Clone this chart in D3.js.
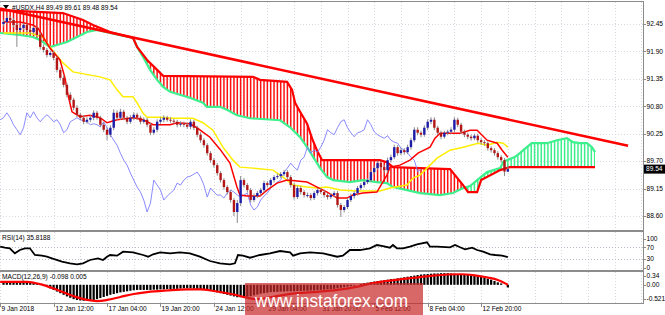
<!DOCTYPE html>
<html><head><meta charset="utf-8">
<script src="https://cdn.jsdelivr.net/npm/d3@7"></script>
<style>body{margin:0;background:#fff;overflow:hidden}svg{display:block;font-family:"Liberation Sans",Arial,sans-serif}</style>
</head><body><svg id="c" width="665" height="315"></svg>
<script>
// ---------- DATA ----------
const opens=[92.45,92.49,92.57,92.53,92.43,92.33,92.37,92.43,92.33,92.29,
92.37,92.23,91.99,91.93,91.83,91.87,91.77,91.53,91.37,91.23,
91.03,90.93,90.77,90.63,90.57,90.49,90.53,90.57,90.67,90.57,
90.43,90.33,90.23,90.37,90.67,90.57,90.69,90.57,90.49,90.57,
90.63,90.57,90.49,90.53,90.43,90.27,90.33,90.49,90.53,90.57,
90.53,90.51,90.49,90.43,90.45,90.43,90.39,90.49,90.37,90.23,
90.12,90.02,89.86,89.72,89.62,89.46,89.32,89.18,89.08,88.92,
88.68,88.86,89.32,89.22,89.12,88.92,89.00,89.06,89.12,89.26,
89.22,89.32,89.38,89.40,89.44,89.48,89.38,89.22,88.98,89.16,
89.08,89.02,89.02,88.96,89.06,89.12,89.08,89.02,88.98,89.02,
89.06,88.82,88.72,88.78,88.92,89.00,89.06,89.16,89.22,89.28,
89.32,89.48,89.56,89.66,89.58,89.52,89.72,89.78,89.98,89.86,
89.92,89.88,89.98,90.12,90.33,90.27,90.23,90.37,90.49,90.53,
90.37,90.27,90.19,90.27,90.29,90.33,90.53,90.43,90.29,90.23,
90.19,90.16,90.21,90.12,90.08,90.06,89.96,89.92,89.86,89.78,
89.72,89.49];
const highs=[92.54,92.62,92.61,92.57,92.47,92.42,92.47,92.46,92.38,92.41,
92.40,92.27,92.04,91.97,91.92,91.91,91.80,91.58,91.42,91.27,
91.08,90.97,90.82,90.67,90.62,90.58,90.62,90.72,90.71,90.61,
90.48,90.38,90.42,90.74,90.72,90.75,90.73,90.61,90.62,90.68,
90.67,90.61,90.58,90.57,90.47,90.38,90.54,90.58,90.62,90.61,
90.58,90.55,90.53,90.50,90.49,90.47,90.54,90.53,90.41,90.28,
90.16,90.06,89.90,89.76,89.66,89.50,89.36,89.22,89.12,88.96,
88.92,89.40,89.36,89.26,89.16,89.05,89.10,89.16,89.31,89.30,
89.36,89.42,89.45,89.48,89.52,89.52,89.42,89.26,89.21,89.20,
89.12,89.07,89.06,89.10,89.16,89.16,89.12,89.06,89.06,89.10,
89.10,88.86,88.82,88.96,89.05,89.10,89.20,89.26,89.32,89.36,
89.53,89.61,89.71,89.70,89.62,89.77,89.83,90.03,90.02,89.97,
89.96,90.03,90.17,90.38,90.38,90.31,90.42,90.54,90.58,90.58,
90.41,90.31,90.31,90.33,90.38,90.58,90.57,90.47,90.33,90.27,
90.23,90.25,90.25,90.16,90.12,90.10,90.00,89.96,89.90,89.82,
89.76,89.61];
const lows=[92.40,92.45,92.48,92.38,91.99,92.28,92.33,92.28,92.24,92.25,
92.18,91.94,91.88,91.78,91.79,91.72,91.48,91.32,91.18,90.98,
90.88,90.72,90.58,90.52,90.44,90.45,90.48,90.52,90.53,90.38,
90.28,90.12,90.18,90.32,90.52,90.53,90.52,90.44,90.45,90.52,
90.53,90.44,90.45,90.38,90.22,90.23,90.28,90.45,90.48,90.49,
90.47,90.45,90.38,90.39,90.38,90.35,90.34,90.32,90.18,90.07,
89.97,89.81,89.67,89.57,89.41,89.27,89.13,89.03,88.87,88.60,
88.46,88.80,89.17,89.07,88.87,88.88,88.96,89.01,89.07,89.17,
89.18,89.27,89.34,89.36,89.40,89.33,89.17,88.93,88.94,89.03,
88.97,88.97,88.91,88.92,89.01,89.04,88.97,88.93,88.94,88.98,
88.77,88.58,88.67,88.74,88.88,88.95,89.01,89.12,89.17,89.24,
89.28,89.43,89.52,89.54,89.47,89.47,89.67,89.74,89.81,89.82,
89.83,89.84,89.93,90.08,90.22,90.18,90.19,90.32,90.44,90.32,
90.22,90.14,90.15,90.22,90.25,90.28,90.38,90.24,90.18,90.14,
90.11,90.12,90.07,90.03,90.01,89.91,89.87,89.81,89.73,89.67,
89.40,89.48];
const closes=[92.49,92.57,92.53,92.43,92.33,92.37,92.43,92.33,92.29,92.37,
92.23,91.99,91.93,91.83,91.87,91.77,91.53,91.37,91.23,91.03,
90.93,90.77,90.63,90.57,90.49,90.53,90.57,90.67,90.57,90.43,
90.33,90.23,90.37,90.67,90.57,90.69,90.57,90.49,90.57,90.63,
90.57,90.49,90.53,90.43,90.27,90.33,90.49,90.53,90.57,90.53,
90.51,90.49,90.43,90.45,90.43,90.39,90.49,90.37,90.23,90.12,
90.02,89.86,89.72,89.62,89.46,89.32,89.18,89.08,88.92,88.68,
88.86,89.32,89.22,89.12,88.92,89.00,89.06,89.12,89.26,89.22,
89.32,89.38,89.40,89.44,89.48,89.38,89.22,88.98,89.16,89.08,
89.02,89.02,88.96,89.06,89.12,89.08,89.02,88.98,89.02,89.06,
88.82,88.72,88.78,88.92,89.00,89.06,89.16,89.22,89.28,89.32,
89.48,89.56,89.66,89.58,89.52,89.72,89.78,89.98,89.86,89.92,
89.88,89.98,90.12,90.33,90.27,90.23,90.37,90.49,90.53,90.37,
90.27,90.19,90.27,90.29,90.33,90.53,90.43,90.29,90.23,90.19,
90.16,90.21,90.12,90.08,90.06,89.96,89.92,89.86,89.78,89.72,
89.49,89.54];

// Ichimoku lines: [bar index, price]
const tenkan=[[0,92.49],[4.9,92.49],[8.8,92.43],[10.3,92.37],[12.4,92.13],[13.9,91.97],[16.9,91.73],[18.4,91.37],[19.3,91.03],[20.5,90.69],[22.9,90.59],[25.9,90.62],[28.9,90.57],[31.0,90.47],[34.0,90.53],[38.8,90.57],[41.8,90.53],[44.8,90.43],[49.9,90.43],[52.0,90.47],[55.8,90.45],[57.9,90.37],[59.7,90.28],[61.8,90.18],[64.8,89.94],[67.8,89.66],[69.9,89.18],[70.8,89.02],[72.9,89.00],[76.8,89.00],[78.9,89.12],[81.9,89.26],[84.9,89.32],[90.9,89.28],[93.9,89.18],[96.9,89.08],[99.9,88.96],[102.8,88.96],[104.6,89.02],[107.6,89.06],[111.8,89.08],[114.8,89.42],[115.7,89.58],[118.7,89.62],[121.7,89.72],[124.1,89.86],[127.7,89.98],[129.2,90.16],[130.7,90.26],[136.7,90.26],[139.7,90.32],[141.8,90.32],[142.7,90.26],[144.8,90.12],[147.8,90.06],[149.3,89.92],[151,89.78]];
const kijun=[[0,92.27],[7.9,92.27],[11.8,92.19],[13.9,91.99],[17.8,91.67],[20.8,91.49],[28.9,91.39],[31.9,91.33],[34.0,91.13],[35.8,90.99],[38.8,90.99],[40.0,90.87],[41.8,90.66],[43.0,90.58],[46.9,90.58],[50.8,90.56],[56.7,90.56],[59.7,90.47],[62.7,90.32],[65.7,89.98],[68.7,89.72],[70.8,89.58],[74.7,89.56],[80.7,89.52],[83.7,89.38],[86.7,89.22],[90.9,89.18],[93.9,89.16],[96.9,89.18],[100.8,89.12],[105.8,89.10],[112.7,89.10],[115.7,89.16],[120.8,89.22],[122.6,89.36],[124.7,89.42],[126.8,89.56],[129.8,89.76],[133.7,89.92],[137.6,89.98],[142.1,90.06],[144.8,90.02],[147.8,90.08],[149.6,90.06],[151,89.98]];
const spanB=[[-1.05,92.73],[17.8,92.67],[23.8,92.53],[26.8,92.43],[31.9,92.29],[38.8,92.17],[40.0,91.99],[43.0,91.73],[46.0,91.53],[47.8,91.41],[74.7,91.39],[76.8,91.33],[84.9,91.29],[86.4,91.13],[87.3,90.87],[88.8,90.69],[90.9,90.45],[92.4,90.15],[93.9,89.91],[95.4,89.72],[112.7,89.72],[114.8,89.68],[116.6,89.58],[124.7,89.56],[133.7,89.54],[137.6,89.22],[139.1,89.08],[141.8,89.08],[143.0,89.32],[148.7,89.52],[151.6,89.58],[177.1,89.58]];
const spanA=[[-1.05,92.27],[4.9,92.23],[8.8,92.19],[10.9,92.13],[13.9,91.99],[16.0,92.03],[19.0,92.09],[22.0,92.19],[25.0,92.29],[28.0,92.33],[31.9,92.27],[38.8,92.17],[40.0,91.99],[41.8,91.79],[43.9,91.53],[46.0,91.33],[47.8,91.19],[49.9,91.09],[52.8,91.03],[55.8,90.97],[59.7,90.87],[60.9,90.79],[64.8,90.79],[66.9,90.73],[69.9,90.62],[73.8,90.56],[82.8,90.52],[85.8,90.38],[88.8,90.18],[90.9,89.98],[93.3,89.72],[94.8,89.56],[96.9,89.38],[98.7,89.32],[103.7,89.28],[107.6,89.32],[111.8,89.28],[114.8,89.26],[116.6,89.18],[120.8,89.12],[124.7,89.06],[130.7,89.02],[134.6,89.06],[137.6,89.16],[139.7,89.20],[141.8,89.32],[144.8,89.48],[148.7,89.56],[149.6,89.68],[150.7,89.72],[153.1,89.78],[154.6,89.86],[156.7,89.98],[158.2,90.06],[162.7,90.06],[165.7,90.12],[168.7,90.16],[170.5,90.08],[172.6,90.06],[174.7,90.06],[176.2,89.98],[177.1,89.88]];
const chikouShift=26;
const trendline=[[-1.05,92.76],[187,90.01]];

const rsi=[[-1.0,71.7],[0.4,68.3],[1.9,66.2],[3.4,49.0],[4.9,60.3],[6.4,66.2],[7.9,66.2],[9.4,43.1],[11.5,40.7],[13.0,37.2],[14.5,31.7],[17.5,20.0],[19.9,14.5],[22.0,11.0],[23.8,14.5],[25.9,25.9],[28.3,31.7],[29.8,25.9],[31.0,37.2],[31.9,43.1],[34.0,40.7],[35.8,54.5],[38.8,52.4],[41.8,43.1],[43.3,37.2],[44.8,45.5],[46.9,52.4],[49.9,49.0],[52.8,52.4],[55.8,49.0],[58.8,37.2],[61.8,22.4],[64.8,14.5],[67.8,11.0],[69.3,14.5],[70.2,43.1],[71.7,40.7],[73.8,33.8],[76.8,43.1],[79.8,49.0],[82.8,56.9],[85.8,52.4],[86.7,40.7],[88.8,49.0],[91.8,52.4],[95.7,49.0],[99.9,37.2],[101.6,40.7],[103.7,60.3],[106.7,60.3],[109.7,66.2],[111.8,77.6],[113.6,74.1],[115.7,68.3],[116.6,77.6],[117.8,66.2],[119.6,66.2],[121.7,71.7],[123.8,80.0],[126.8,86.9],[127.7,71.7],[129.8,71.7],[133.7,69.7],[135.2,77.6],[136.7,69.7],[138.2,62.8],[140.3,68.3],[141.8,60.3],[143.6,54.5],[145.7,45.5],[147.2,43.1],[149.3,40.7],[151,35.8]];
const macdHist=[0.10,0.10,0.11,0.11,0.11,0.10,0.10,0.09,0.08,0.07,
0.05,0.02,-0.02,-0.07,-0.13,-0.19,-0.25,-0.31,-0.37,-0.43,
-0.48,-0.53,-0.56,-0.58,-0.59,-0.59,-0.58,-0.56,-0.53,-0.49,
-0.45,-0.41,-0.37,-0.34,-0.31,-0.28,-0.26,-0.24,-0.22,-0.20,
-0.19,-0.19,-0.19,-0.19,-0.19,-0.18,-0.18,-0.17,-0.17,-0.16,
-0.16,-0.15,-0.15,-0.14,-0.13,-0.13,-0.13,-0.14,-0.15,-0.16,
-0.18,-0.20,-0.23,-0.26,-0.28,-0.31,-0.34,-0.37,-0.40,-0.43,
-0.46,-0.46,-0.45,-0.44,-0.42,-0.39,-0.36,-0.33,-0.31,-0.29,
-0.27,-0.26,-0.26,-0.25,-0.25,-0.24,-0.24,-0.24,-0.23,-0.23,
-0.22,-0.22,-0.21,-0.21,-0.20,-0.19,-0.18,-0.17,-0.16,-0.15,
-0.13,-0.11,-0.09,-0.07,-0.05,-0.03,0.00,0.03,0.06,0.08,
0.10,0.12,0.14,0.15,0.17,0.19,0.21,0.22,0.24,0.26,
0.28,0.30,0.32,0.34,0.36,0.38,0.39,0.40,0.41,0.42,
0.42,0.43,0.43,0.43,0.42,0.41,0.40,0.39,0.38,0.37,
0.35,0.34,0.32,0.30,0.27,0.23,0.19,0.14,0.09,0.05,
0.00,-0.098];
const macdSignal=[[-1,0.11],[7,0.11],[12,-0.01],[16,-0.18],[21,-0.42],[25,-0.56],[28,-0.60],[31,-0.56],[35,-0.45],[39,-0.34],[43,-0.27],[49,-0.21],[55,-0.17],[59,-0.17],[63,-0.23],[69,-0.36],[73,-0.48],[76,-0.53],[80,-0.46],[84,-0.37],[88,-0.31],[94,-0.26],[100,-0.19],[106,-0.07],[110,0.05],[114,0.13],[118,0.19],[123,0.26],[128,0.33],[133,0.38],[137,0.39],[141,0.35],[145,0.27],[148,0.18],[151,0.005]];

const priceTicks=[92.45,91.90,91.35,90.80,90.25,89.70,89.15,88.60];
const rsiTicks=[100,70,30,0];
const rsiLevels=[70,30];
const macdTicks=[0.34,0.00,-0.521];
const timeLabels=["9 Jan 2018","12 Jan 12:00","17 Jan 04:00","19 Jan 20:00","24 Jan 12:00","29 Jan 04:00","31 Jan 20:00","5 Feb 12:00","8 Feb 04:00","12 Feb 20:00"];
const timeBars=[-1,15,31,47,63,79,95,111,127,143];
const header="#USDX,H4  89.49 89.61 89.48 89.54";
const lastPrice=89.54;

// ---------- LAYOUT ----------
const svg=d3.select("#c");
const R=643;
const main={t:2,b:230}, rsiP={t:232,b:270}, macP={t:272,b:303};
const x=d3.scaleLinear().domain([-1.048,191.47]).range([0,R]);
const y=d3.scaleLinear().domain([88.60,92.45]).range([216,24]);
const yR=d3.scaleLinear().domain([0,100]).range([267.5,238.5]);
const yM=d3.scaleLinear().domain([0,0.34]).range([284.8,275.6]);
const defs=svg.append("defs");
function clipRect(id,p){defs.append("clipPath").attr("id",id).append("rect").attr("x",0).attr("y",p.t).attr("width",R).attr("height",p.b-p.t);}
clipRect("cMain",main);clipRect("cRsi",rsiP);clipRect("cMac",macP);

// grid
const gridBars=d3.range(-1,192,8);
const grid=svg.append("g").attr("stroke","#d9d9e4").attr("stroke-dasharray","1,2").attr("stroke-width",1);
[main,rsiP,macP].forEach(p=>{
  grid.selectAll(null).data(gridBars).join("line").attr("x1",d=>Math.round(x(d))+0.5).attr("x2",d=>Math.round(x(d))+0.5).attr("y1",p.t).attr("y2",p.b);
});
grid.selectAll(null).data(priceTicks).join("line").attr("x1",0).attr("x2",R).attr("y1",d=>Math.round(y(d))+0.5).attr("y2",d=>Math.round(y(d))+0.5);
grid.selectAll(null).data(rsiLevels).join("line").attr("x1",0).attr("x2",R).attr("y1",d=>Math.round(yR(d))+0.5).attr("y2",d=>Math.round(yR(d))+0.5).attr("stroke","#b8b8c8");

// ---------- MAIN PANEL ----------
const gm=svg.append("g").attr("clip-path","url(#cMain)");
const P=d=>[x(d[0]),y(d[1])];
const line=d3.line().x(d=>x(d[0])).y(d=>y(d[1]));
// cloud
const areaPts=spanB.map(P).concat(spanA.slice().reverse().map(P));
defs.append("clipPath").attr("id","cloudArea").append("path").attr("d","M"+areaPts.join("L")+"Z");
const aPts=spanA.map(P);
const x0=aPts[0][0], x1=aPts[aPts.length-1][0];
defs.append("clipPath").attr("id","aboveA").append("path").attr("d","M"+aPts.join("L")+`L${x1},-10L${x0},-10Z`);
defs.append("clipPath").attr("id","belowA").append("path").attr("d","M"+aPts.join("L")+`L${x1},300L${x0},300Z`);
const hatchBars=d3.range(-1,178);
const gc=gm.append("g").attr("clip-path","url(#cloudArea)");
gc.append("g").attr("clip-path","url(#aboveA)").selectAll("line").data(hatchBars).join("line")
  .attr("x1",d=>x(d)).attr("x2",d=>x(d)).attr("y1",0).attr("y2",231).attr("stroke","#ff1010").attr("stroke-width",1.5);
gc.append("g").attr("clip-path","url(#belowA)").selectAll("line").data(hatchBars).join("line")
  .attr("x1",d=>x(d)).attr("x2",d=>x(d)).attr("y1",0).attr("y2",231).attr("stroke","#3cee8c").attr("stroke-width",1.5);
gm.append("path").attr("d",line(spanA)).attr("fill","none").attr("stroke","#3cf08c").attr("stroke-width",2.2);
gm.append("path").attr("d",line(spanB)).attr("fill","none").attr("stroke","#ff0000").attr("stroke-width",2.2);
// chikou
const chikou=closes.map((c,i)=>[i-chikouShift,c]);
gm.append("path").attr("d",line(chikou)).attr("fill","none").attr("stroke","#7c7cff").attr("stroke-width",0.9);
gm.append("path").attr("d",line(kijun)).attr("fill","none").attr("stroke","#ffee00").attr("stroke-width",1.5);
gm.append("path").attr("d",line(tenkan)).attr("fill","none").attr("stroke","#ff0000").attr("stroke-width",1.5);
// candles
const idx=d3.range(closes.length);
const gcd=gm.append("g");
gcd.selectAll("line").data(idx).join("line").attr("x1",i=>x(i)).attr("x2",i=>x(i)).attr("y1",i=>y(highs[i])).attr("y2",i=>y(lows[i])).attr("stroke","#8a8a8a").attr("stroke-width",1);
gcd.selectAll("rect").data(idx).join("rect").attr("x",i=>x(i)-1.2).attr("width",2.4)
  .attr("y",i=>y(Math.max(opens[i],closes[i]))).attr("height",i=>Math.max(1,Math.abs(y(opens[i])-y(closes[i]))))
  .attr("fill",i=>closes[i]>=opens[i]?"#1c1ca8":"#b31616");
// trendline
gm.append("path").attr("d",line(trendline)).attr("fill","none").attr("stroke","#ff0000").attr("stroke-width",2.6);

// ---------- RSI ----------
const gr=svg.append("g").attr("clip-path","url(#cRsi)");
gr.append("path").attr("d",d3.line().x(d=>x(d[0])).y(d=>yR(d[1]))(rsi)).attr("fill","none").attr("stroke","#000").attr("stroke-width",1.8);

// ---------- MACD ----------
const gmc=svg.append("g").attr("clip-path","url(#cMac)");
gmc.selectAll("rect").data(idx).join("rect").attr("x",i=>x(i)-1.1).attr("width",2.2)
  .attr("y",i=>Math.min(yM(0),yM(macdHist[i]))).attr("height",i=>Math.abs(yM(macdHist[i])-yM(0))).attr("fill","#000");
gmc.append("path").attr("d",d3.line().x(d=>x(d[0])).y(d=>yM(d[1])).curve(d3.curveMonotoneX)(macdSignal)).attr("fill","none").attr("stroke","#ff0000").attr("stroke-width",2.2);

// ---------- FRAMES & AXES ----------
const fr=svg.append("g").attr("stroke","#8c8c8c").attr("fill","none");
[main,rsiP,macP].forEach(p=>{
  fr.append("line").attr("x1",0).attr("x2",R).attr("y1",p.t-0.5).attr("y2",p.t-0.5);
  fr.append("line").attr("x1",0).attr("x2",R).attr("y1",p.b+0.5).attr("y2",p.b+0.5);
});
fr.append("line").attr("x1",R+0.5).attr("x2",R+0.5).attr("y1",1).attr("y2",macP.b+1);
const txt=svg.append("g").attr("font-size",6.6).attr("fill","#000");
function rlab(vals,sc,fmt){
  vals.forEach(v=>{
    fr.append("line").attr("x1",R).attr("x2",R+3).attr("y1",Math.round(sc(v))+0.5).attr("y2",Math.round(sc(v))+0.5);
    txt.append("text").attr("x",R+3.5).attr("y",sc(v)).attr("dy","0.35em").text(fmt(v));
  });
}
rlab(priceTicks,y,d3.format(".2f"));
rlab(rsiTicks,yR,d=>String(d));
rlab(macdTicks,yM,d=>d===-0.521?"-0.521":d3.format(".2f")(d));
// last price box
svg.append("rect").attr("x",R+1).attr("y",y(lastPrice)-4.5).attr("width",21).attr("height",9).attr("fill","#000");
svg.append("text").attr("x",R+3).attr("y",y(lastPrice)).attr("dy","0.35em").attr("font-size",6.6).attr("fill","#fff").text(d3.format(".2f")(lastPrice));
// time axis
timeBars.forEach((b,k)=>{
  const xx=Math.max(0,Math.round(x(b)))+0.5;
  fr.append("line").attr("x1",xx).attr("x2",xx).attr("y1",macP.b+1).attr("y2",macP.b+4);
  txt.append("text").attr("x",Math.max(1,xx+1)).attr("y",309).attr("dy","0.35em").text(timeLabels[k]);
});
// titles
svg.append("path").attr("d","M3,5L9,5L6,9Z").attr("fill","#000");
txt.append("text").attr("x",12).attr("y",7.5).attr("dy","0.35em").text(header);
txt.append("text").attr("x",2).attr("y",237.5).attr("dy","0.35em").text("RSI(14) 35.8188");
txt.append("text").attr("x",2).attr("y",277).attr("dy","0.35em").text("MACD(12,26,9) -0.098 0.005");

// watermark
svg.append("rect").attr("x",245).attr("y",283).attr("width",178).attr("height",32).attr("fill","#c82828").attr("opacity",0.7);
svg.append("text").attr("x",255).attr("y",307).attr("font-size",19).attr("fill","#fff").attr("textLength",153).attr("lengthAdjust","spacingAndGlyphs").text("www.instaforex.com");
</script></body></html>
